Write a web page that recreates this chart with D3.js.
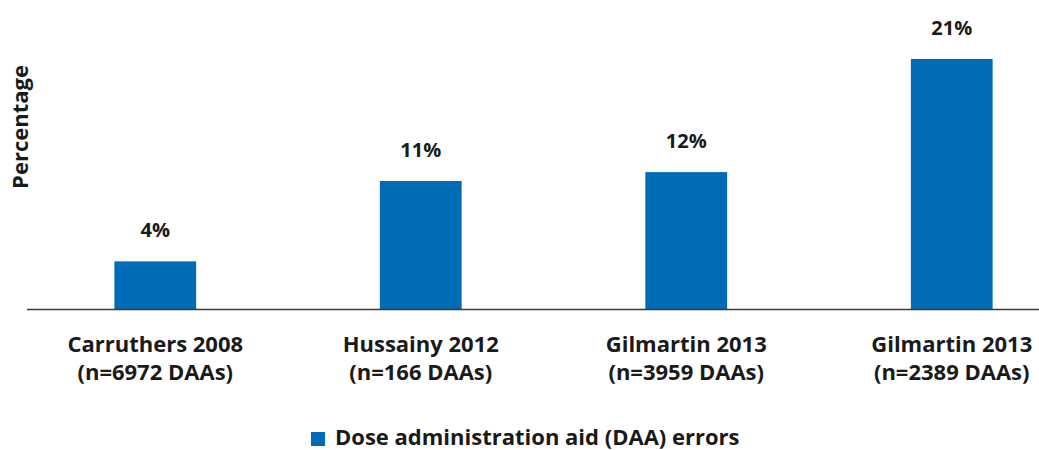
<!DOCTYPE html>
<html>
<head>
<meta charset="utf-8">
<script src="https://cdn.jsdelivr.net/npm/d3@7"></script>
<style>
  html, body { margin: 0; padding: 0; background: #fff; }
  svg { display: block; }
  text { font-family: "Open Sans", "Noto Sans", sans-serif; font-weight: 700; fill: #1a1a1a; }
</style>
</head>
<body>
<svg id="chart" width="1039" height="450"></svg>
<script>
const categoriesLine1 = ["Carruthers 2008", "Hussainy 2012", "Gilmartin 2013", "Gilmartin 2013"];
const categoriesLine2 = ["(n=6972 DAAs)", "(n=166 DAAs)", "(n=3959 DAAs)", "(n=2389 DAAs)"];
const values = [4, 10.75, 11.5, 21];
const valueLabels = ["4%", "11%", "12%", "21%"];
const seriesName = "Dose administration aid (DAA) errors";
const yTitle = "Percentage";

const color = "#006bb6";
const svg = d3.select("#chart");
const baseY = 309;

const ids = d3.range(values.length);
const x = d3.scaleBand().domain(ids).range([48, 1059]).paddingInner(0.692).paddingOuter(0.25);
const y = d3.scaleLinear().domain([0, 21]).range([baseY, 59]);

// bars
svg.selectAll("rect.bar").data(ids).join("rect")
  .attr("class", "bar")
  .attr("x", i => x(i))
  .attr("width", x.bandwidth())
  .attr("y", i => y(values[i]))
  .attr("height", i => baseY - y(values[i]))
  .attr("fill", color);

// axis baseline
svg.append("line")
  .attr("x1", 27).attr("x2", 1039)
  .attr("y1", baseY + 0.5).attr("y2", baseY + 0.5)
  .attr("stroke", "#3a3a3a").attr("stroke-width", 1.5);

// value labels
svg.selectAll("text.val").data(ids).join("text")
  .attr("class", "val")
  .attr("x", i => x(i) + x.bandwidth() / 2)
  .attr("y", i => y(values[i]) - 24)
  .attr("text-anchor", "middle")
  .attr("font-size", 20)
  .text(i => valueLabels[i]);

// category labels
const cat = svg.selectAll("text.cat").data(ids).join("text")
  .attr("class", "cat")
  .attr("text-anchor", "middle")
  .attr("font-size", 22);
cat.append("tspan")
  .attr("x", i => x(i) + x.bandwidth() / 2)
  .attr("y", 352)
  .text(i => categoriesLine1[i]);
cat.append("tspan")
  .attr("x", i => x(i) + x.bandwidth() / 2)
  .attr("y", 380)
  .text(i => categoriesLine2[i]);

// y title
svg.append("text")
  .attr("transform", "translate(28,127) rotate(-90)")
  .attr("text-anchor", "middle")
  .attr("font-size", 22)
  .text(yTitle);

// legend
svg.append("rect")
  .attr("x", 311).attr("y", 432).attr("width", 14).attr("height", 14)
  .attr("fill", color);
svg.append("text")
  .attr("x", 335).attr("y", 445)
  .attr("font-size", 22)
  .text(seriesName);
</script>
</body>
</html>
